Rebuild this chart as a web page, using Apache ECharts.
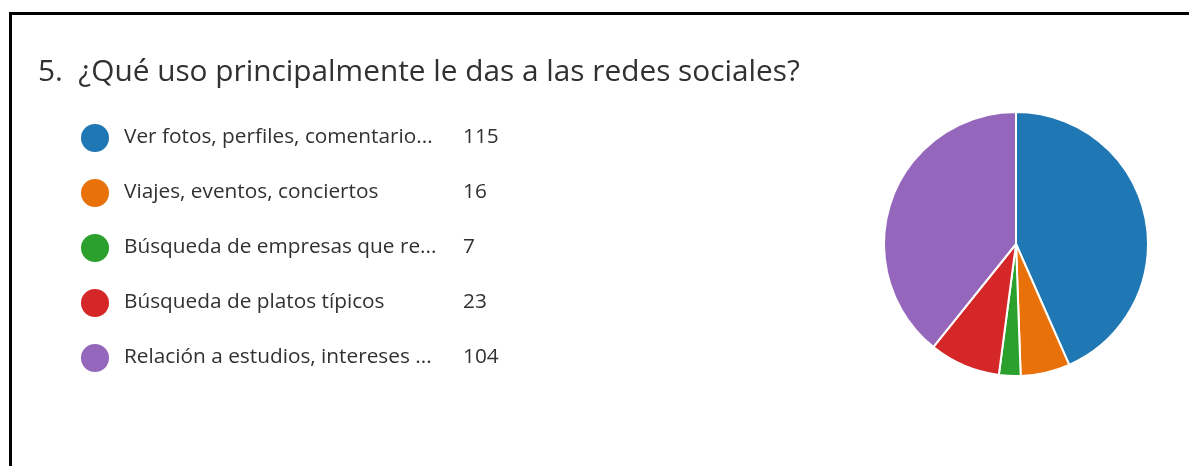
<!DOCTYPE html>
<html>
<head>
<meta charset="utf-8">
<script src="https://cdn.jsdelivr.net/npm/echarts@6/dist/echarts.min.js"></script>
<style>
html,body{margin:0;padding:0;background:#fff;}
#chart{width:1189px;height:466px;}
</style>
</head>
<body>
<div id="chart"></div>
<script>
const titleText = '5.  ¿Qué uso principalmente le das a las redes sociales?';
const categories = [
  'Ver fotos, perfiles, comentario...',
  'Viajes, eventos, conciertos',
  'Búsqueda de empresas que re...',
  'Búsqueda de platos típicos',
  'Relación a estudios, intereses ...'
];
const values = [115, 16, 7, 23, 104];
const colors = ['#1f77b4', '#e8710a', '#2ca02c', '#d62728', '#9467bd'];

const FONT = '"Open Sans", "Noto Sans", sans-serif';
const chart = echarts.init(document.getElementById('chart'), null, {renderer: 'canvas'});
const data = categories.map((c, i) => ({name: c, value: values[i], itemStyle: {color: colors[i]}}));

chart.setOption({
  backgroundColor: '#ffffff',
  animation: false,
  title: {
    text: titleText,
    left: 33,
    top: 53,
    textStyle: {fontFamily: FONT, fontSize: 29.8, fontWeight: 'normal', color: '#323130'}
  },
  legend: {
    orient: 'vertical',
    left: 79,
    top: 122,
    padding: 0,
    icon: 'circle',
    itemWidth: 30,
    itemHeight: 30,
    itemGap: 23,
    selectedMode: false,
    data: categories,
    formatter: function (name) {
      const i = categories.indexOf(name);
      return '{n|' + name + '}{v|' + values[i] + '}';
    },
    textStyle: {
      fontFamily: FONT,
      color: '#323130',
      rich: {
        n: {fontFamily: FONT, fontSize: 20.8, color: '#323130', width: 339, padding: [0, 0, 2, 9]},
        v: {fontFamily: FONT, fontSize: 20.8, color: '#323130', padding: [0, 0, 2, 0]}
      }
    }
  },
  graphic: [
    {type: 'line', shape: {x1: 9, y1: 13.5, x2: 1189, y2: 13.5}, style: {stroke: '#000', lineWidth: 3}},
    {type: 'line', shape: {x1: 10.5, y1: 12, x2: 10.5, y2: 466}, style: {stroke: '#000', lineWidth: 3}}
  ],
  series: [{
    type: 'pie',
    center: [1016, 244],
    radius: [0, 132],
    startAngle: 90,
    clockwise: true,
    silent: true,
    label: {show: false},
    labelLine: {show: false},
    itemStyle: {borderColor: '#ffffff', borderWidth: 2},
    data: data
  }]
});
</script>
</body>
</html>
